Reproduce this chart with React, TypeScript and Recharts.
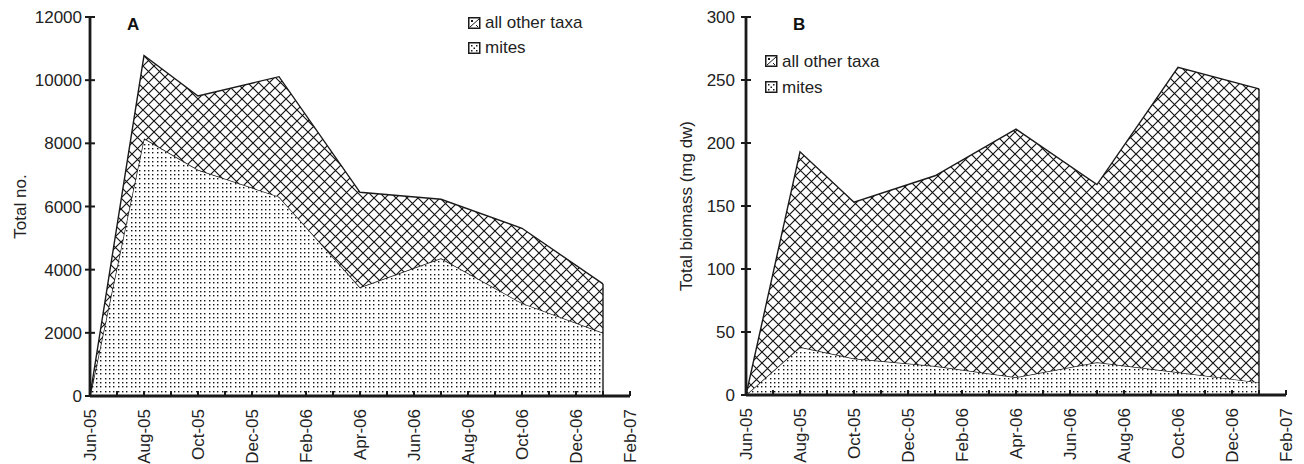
import React from 'react';
import { AreaChart, Area, XAxis, YAxis, Legend, ReferenceLine } from 'recharts';

const FONT = '"Liberation Sans", Arial, Helvetica, sans-serif';
const INK = '#1a1a1a';

// month axis, Jun-05 .. Feb-07 (one tick per month, every second one labelled)
const MONTH_LABELS = [
  'Jun-05', 'Jul-05', 'Aug-05', 'Sep-05', 'Oct-05', 'Nov-05', 'Dec-05',
  'Jan-06', 'Feb-06', 'Mar-06', 'Apr-06', 'May-06', 'Jun-06', 'Jul-06',
  'Aug-06', 'Sep-06', 'Oct-06', 'Nov-06', 'Dec-06', 'Jan-07', 'Feb-07',
];
const MONTH_TICKS = MONTH_LABELS.map((_, i) => i);

// sampling dates as months after Jun-05
const SAMPLE_MONTHS = [0, 2, 4, 7, 10, 13, 16, 19];

// panel A: total numbers
const COUNT_TOTAL = [0, 10780, 9500, 10110, 6450, 6230, 5310, 3550];
const COUNT_MITES = [0, 8160, 7160, 6310, 3440, 4360, 2940, 2000];
const COUNT_TICKS = [0, 2000, 4000, 6000, 8000, 10000, 12000];

// panel B: total biomass (mg dw)
const BIOMASS_TOTAL = [0, 193, 153, 174, 211, 167, 260, 243];
const BIOMASS_MITES = [0, 38, 29, 23, 14, 26, 18, 10];
const BIOMASS_TICKS = [0, 50, 100, 150, 200, 250, 300];

const SERIES_OTHER = 'all other taxa';
const SERIES_MITES = 'mites';
const LEGEND_ORDER = [SERIES_OTHER, SERIES_MITES];

function buildRows(total: number[], mites: number[]) {
  return SAMPLE_MONTHS.map((m, i) => ({
    month: m,
    mites: mites[i],
    other: total[i] - mites[i],
  }));
}

const makeYTick = (gap: number) => (props: any) => {
  const { x, y, payload } = props;
  return (
    <g>
      <line x1={x - 5} x2={x + 5} y1={y} y2={y} stroke={INK} strokeWidth={2} />
      <text x={x - gap} y={y} dy="0.36em" textAnchor="end" fontSize={17} fontFamily={FONT} fill="#222">
        {payload.value}
      </text>
    </g>
  );
};

const XTick = (props: any) => {
  const { x, y, payload } = props;
  const label = payload.value % 2 === 0 ? MONTH_LABELS[payload.value] : '';
  const ty = y + 13;
  return (
    <g>
      <line x1={x} x2={x} y1={y} y2={y - 5} stroke={INK} strokeWidth={2} />
      {label && (
        <text
          x={x}
          y={ty}
          dy="0.36em"
          textAnchor="end"
          transform={`rotate(-90, ${x}, ${ty})`}
          fontSize={17}
          fontFamily={FONT}
          fill="#222"
        >
          {label}
        </text>
      )}
    </g>
  );
};

function LegendIcon({ name }: { name: string }) {
  return (
    <svg width={13} height={12} style={{ position: 'absolute', left: 0, top: 6 }}>
      <rect x={0.75} y={0.75} width={11} height={10.5} fill="#fff" stroke={INK} strokeWidth={1.5} />
      {name === SERIES_OTHER ? (
        <path d="M2,10 L11,2 M3,3 L5,5 M8,8 L10,10 M5,3 L3,5" stroke={INK} strokeWidth={1} fill="none" />
      ) : (
        <g fill={INK}>
          <rect x={3} y={3} width={1.5} height={1.5} />
          <rect x={8} y={3} width={1.5} height={1.5} />
          <rect x={5.5} y={5.5} width={1.5} height={1.5} />
          <rect x={3} y={8} width={1.5} height={1.5} />
          <rect x={8} y={8} width={1.5} height={1.5} />
        </g>
      )}
    </svg>
  );
}

const makeLegend = (rowHeight: number) => (props: any) => {
  const items = [...(props.payload || [])].sort(
    (a: any, b: any) => LEGEND_ORDER.indexOf(a.value) - LEGEND_ORDER.indexOf(b.value)
  );
  return (
    <div style={{ fontFamily: FONT, fontSize: 17, color: '#222' }}>
      {items.map((it: any) => (
        <div key={it.value} style={{ position: 'relative', height: rowHeight, lineHeight: `${rowHeight}px`, paddingLeft: 17, whiteSpace: 'nowrap' }}>
          <LegendIcon name={it.value} />
          {it.value}
        </div>
      ))}
    </div>
  );
};

interface PanelProps {
  id: string;
  letter: string;
  letterX: number;
  total: number[];
  mites: number[];
  yTicks: number[];
  yTitle: string;
  titleOffset: number;
  yAxisWidth: number;
  marginRight: number;
  xAxisHeight: number;
  labelGap: number;
  legendLeft: number;
  legendTop: number;
  legendRow: number;
}

// dot grid offsets inside a 13px tile (roughly 4.3px apart, kept on whole pixels)
const DOT_POS = [1, 5, 9];

function Panel(p: PanelProps) {
  const data = buildRows(p.total, p.mites);
  const last = SAMPLE_MONTHS[SAMPLE_MONTHS.length - 1];
  const lastTotal = p.total[p.total.length - 1];
  const yMax = p.yTicks[p.yTicks.length - 1];
  return (
    <AreaChart
      width={652}
      height={464}
      data={data}
      margin={{ top: 17, right: p.marginRight, bottom: 0, left: 0 }}
    >
      <defs>
        <pattern id={`hatch-${p.id}`} patternUnits="userSpaceOnUse" width={11} height={11}>
          <rect width={11} height={11} fill="#fff" />
          <path d="M0,0 L11,11 M11,0 L0,11" stroke="#111" strokeWidth={1.15} />
        </pattern>
        <pattern id={`dots-${p.id}`} patternUnits="userSpaceOnUse" width={13} height={13}>
          <rect width={13} height={13} fill="#fff" />
          {DOT_POS.map((dx) =>
            DOT_POS.map((dy) => (
              <rect key={`${dx}-${dy}`} x={dx} y={dy} width={1.4} height={1.4} fill="#111" />
            ))
          )}
        </pattern>
      </defs>
      <XAxis
        dataKey="month"
        type="number"
        domain={[0, 20]}
        ticks={MONTH_TICKS}
        interval={0}
        height={p.xAxisHeight}
        tickSize={0}
        tickMargin={0}
        tickLine={false}
        tick={XTick}
        axisLine={{ stroke: INK, strokeWidth: 2.8 }}
      />
      <YAxis
        type="number"
        domain={[0, yMax]}
        ticks={p.yTicks}
        interval={0}
        width={p.yAxisWidth}
        tickSize={0}
        tickMargin={0}
        tickLine={false}
        tick={makeYTick(p.labelGap)}
        axisLine={{ stroke: INK, strokeWidth: 2.8 }}
        label={{
          value: p.yTitle,
          angle: -90,
          position: 'insideLeft',
          offset: p.titleOffset,
          style: { textAnchor: 'middle', fontSize: 17, fontFamily: FONT, fill: '#222' },
        }}
      />
      <Area
        type="linear"
        dataKey="mites"
        name={SERIES_MITES}
        stackId="s"
        stroke={INK}
        strokeWidth={1.4}
        fill={`url(#dots-${p.id})`}
        fillOpacity={1}
        isAnimationActive={false}
      />
      <Area
        type="linear"
        dataKey="other"
        name={SERIES_OTHER}
        stackId="s"
        stroke={INK}
        strokeWidth={1.4}
        fill={`url(#hatch-${p.id})`}
        fillOpacity={1}
        isAnimationActive={false}
      />
      <ReferenceLine
        segment={[{ x: last, y: 0 }, { x: last, y: lastTotal }]}
        stroke={INK}
        strokeWidth={1.4}
      />
      <Legend
        layout="horizontal"
        verticalAlign="middle"
        align="center"
        content={makeLegend(p.legendRow)}
        wrapperStyle={{ left: p.legendLeft, top: p.legendTop, width: 'auto', height: 'auto' }}
      />
      <text x={p.letterX} y={29.5} fontSize={17} fontWeight="bold" fontFamily={FONT} fill="#111">
        {p.letter}
      </text>
    </AreaChart>
  );
}

export default function App() {
  return (
    <div style={{ position: 'absolute', left: 0, top: 0, width: 1304, height: 464, background: '#fff', display: 'flex' }}>
      <Panel
        id="a"
        letter="A"
        letterX={127}
        total={COUNT_TOTAL}
        mites={COUNT_MITES}
        yTicks={COUNT_TICKS}
        yTitle="Total no."
        titleOffset={20}
        yAxisWidth={90}
        marginRight={22}
        xAxisHeight={68}
        labelGap={8}
        legendLeft={468}
        legendTop={11.4}
        legendRow={24.5}
      />
      <Panel
        id="b"
        letter="B"
        letterX={141}
        total={BIOMASS_TOTAL}
        mites={BIOMASS_MITES}
        yTicks={BIOMASS_TICKS}
        yTitle="Total biomass (mg dw)"
        titleOffset={34}
        yAxisWidth={94}
        marginRight={18}
        xAxisHeight={69}
        labelGap={11}
        legendLeft={113}
        legendTop={49.2}
        legendRow={25.4}
      />
    </div>
  );
}
